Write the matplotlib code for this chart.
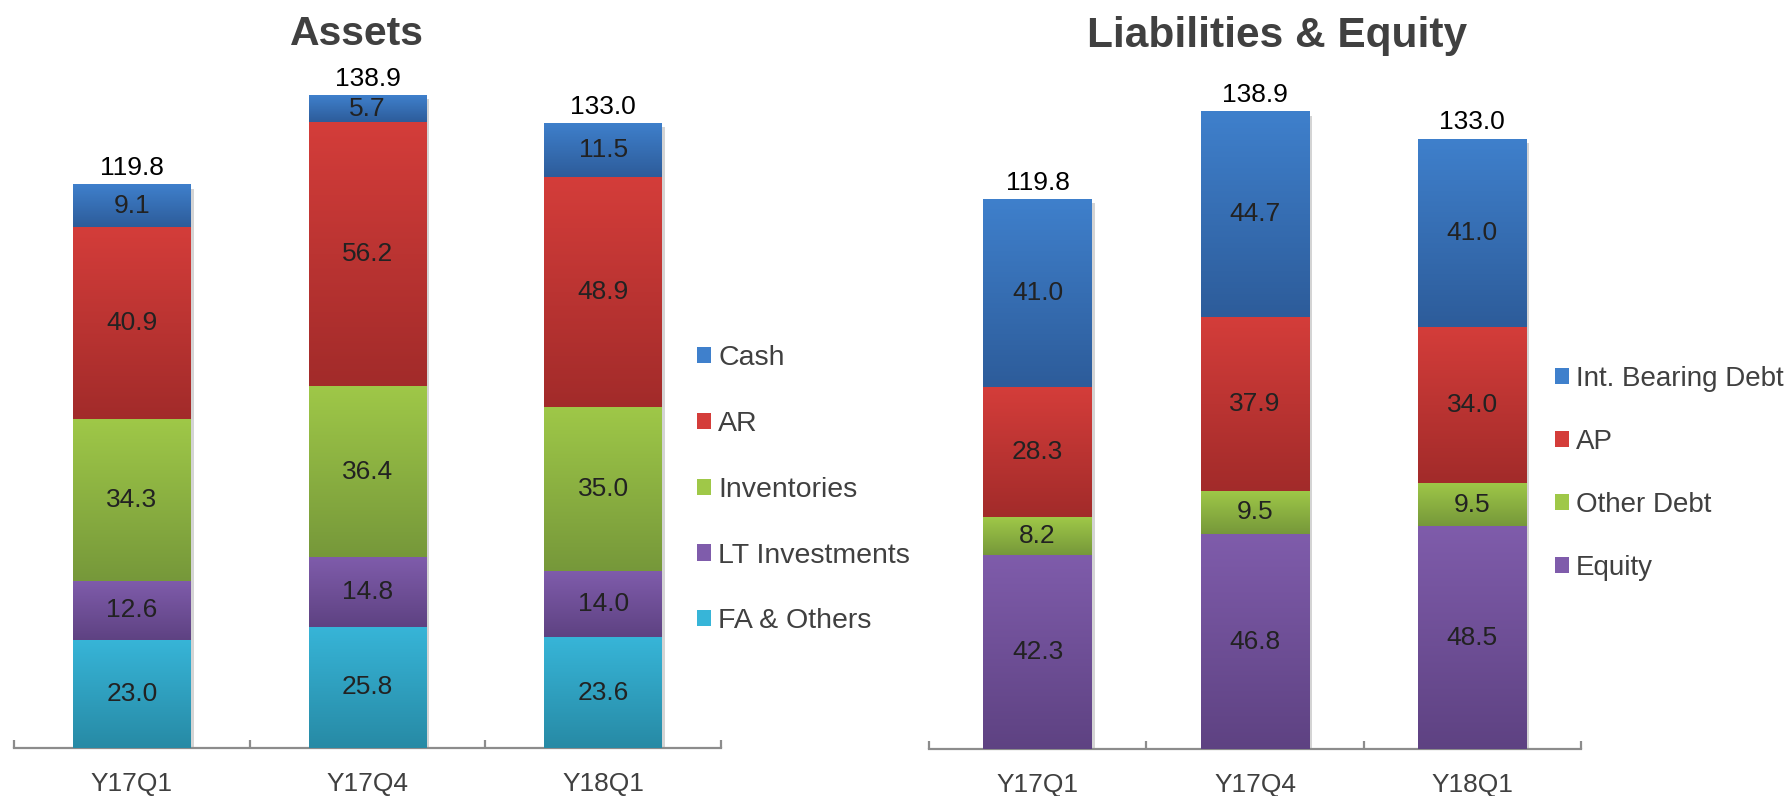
import matplotlib
matplotlib.use('Agg')
import matplotlib.pyplot as plt
import numpy as np
from matplotlib import patheffects as pe
from matplotlib.colors import LinearSegmentedColormap
from matplotlib.patches import Patch

plt.rcParams['font.family'] = ['Liberation Sans', 'DejaVu Sans']

# ---------------- data ----------------
quarters = ['Y17Q1', 'Y17Q4', 'Y18Q1']

# Assets (bottom -> top)
fa_others = [23.0, 25.8, 23.6]
lt_invest = [12.6, 14.8, 14.0]
inventories = [34.3, 36.4, 35.0]
ar = [40.9, 56.2, 48.9]
cash = [9.1, 5.7, 11.5]
assets_total = [119.8, 138.9, 133.0]

# Liabilities & Equity (bottom -> top)
equity = [42.3, 46.8, 48.5]
other_debt = [8.2, 9.5, 9.5]
ap = [28.3, 37.9, 34.0]
int_bearing_debt = [41.0, 44.7, 41.0]
le_total = [119.8, 138.9, 133.0]

# ---------------- styles ----------------
BLUE = ('#3f80cc', '#2d5c9a')
RED = ('#d43d3a', '#a22b2a')
GREEN = ('#9fc848', '#76983a')
PURPLE = ('#7f5cab', '#5e4282')
CYAN = ('#37b5d8', '#278aa5')

AXIS_COL = '#8c8c8c'
TXT_COL = '#404040'
SEG_TXT = '#222222'

W, H, DPI = 1789, 796, 100
fig = plt.figure(figsize=(W / DPI, H / DPI), dpi=DPI)


def px_axes(x0, x1, y_base, px_per_unit, ymax=150):
    """axes from pixel geometry (y measured from top)."""
    left = x0 / W
    width = (x1 - x0) / W
    bottom = (H - y_base) / H
    height = ymax * px_per_unit / H
    ax = fig.add_axes([left, bottom, width, height])
    ax.set_xlim(-0.5, 2.5)
    ax.set_ylim(0, ymax)
    return ax


def grad_fill(ax, bars, colors):
    top, bot = colors
    cmap = LinearSegmentedColormap.from_list('g', [bot, top])
    grad = np.linspace(0, 1, 256).reshape(-1, 1)
    for p in bars:
        x0, y0 = p.get_x(), p.get_y()
        w, h = p.get_width(), p.get_height()
        im = ax.imshow(grad, extent=[x0, x0 + w, y0, y0 + h], origin='lower',
                       cmap=cmap, aspect='auto', zorder=3, interpolation='bilinear')
        im.set_clip_path(p)


def stacked(ax, series, colors, totals):
    x = np.arange(len(quarters))
    bottom = np.zeros(len(quarters))
    conts = []
    for vals, col in zip(series, colors):
        b = ax.bar(x, vals, width=0.5, bottom=bottom, color=col[0], zorder=2,
                   linewidth=0)
        for p in b:
            p.set_path_effects([pe.SimplePatchShadow(offset=(2, -3), shadow_rgbFace='#555555', alpha=0.25),
                                pe.Normal()])
        grad_fill(ax, b, col)
        ax.bar_label(b, labels=[f'{v:.1f}' for v in vals], label_type='center',
                     fontsize=19, color=SEG_TXT, zorder=6)
        conts.append(b)
        bottom = bottom + np.array(vals)
    ax.bar_label(conts[-1], labels=[f'{t:.1f}' for t in totals], padding=3,
                 fontsize=19, color='black', zorder=6)
    ax.set_xlim(-0.5, 2.5)
    ax.set_ylim(0, 150)

    for s in ['left', 'top', 'right']:
        ax.spines[s].set_visible(False)
    ax.spines['bottom'].set_color(AXIS_COL)
    ax.spines['bottom'].set_linewidth(1.6)
    ax.set_yticks([])
    ax.set_xticks(x)
    ax.set_xticklabels(quarters, fontsize=19, color=TXT_COL)
    ax.tick_params(axis='x', which='major', length=0, pad=17)
    ax.set_xticks([-0.5, 0.5, 1.5, 2.5], minor=True)
    ax.tick_params(axis='x', which='minor', direction='in', length=6,
                   width=1.6, color=AXIS_COL)
    ax.patch.set_alpha(0)


# ---------------- Assets ----------------
ax1 = px_axes(14, 721, 748, 4.70)
stacked(ax1, [fa_others, lt_invest, inventories, ar, cash],
        [CYAN, PURPLE, GREEN, RED, BLUE], assets_total)
fig.text(357 / W, 1 - 45 / H, 'Assets', ha='center', va='baseline',
         fontsize=29.5, fontweight='bold', color=TXT_COL)

h1 = [Patch(facecolor=c[0], edgecolor='none') for c in [BLUE, RED, GREEN, PURPLE, CYAN]]
fig.legend(h1, ['Cash', 'AR', 'Inventories', 'LT Investments', 'FA & Others'],
           loc='upper left', bbox_to_anchor=(697 / W, 1 - 345 / H),
           bbox_transform=fig.transFigure, frameon=False, borderpad=0,
           borderaxespad=0, labelspacing=1.4, handletextpad=0.25,
           handlelength=0.5, handleheight=0.5,
           prop={'size': 20.5}, labelcolor=TXT_COL)

# ---------------- Liabilities & Equity ----------------
ax2 = px_axes(929, 1581, 749, 4.59)
stacked(ax2, [equity, other_debt, ap, int_bearing_debt],
        [PURPLE, GREEN, RED, BLUE], le_total)
fig.text(1277 / W, 1 - 47 / H, 'Liabilities & Equity', ha='center', va='baseline',
         fontsize=30.5, fontweight='bold', color=TXT_COL)

h2 = [Patch(facecolor=c[0], edgecolor='none') for c in [BLUE, RED, GREEN, PURPLE]]
fig.legend(h2, ['Int. Bearing Debt', 'AP', 'Other Debt', 'Equity'],
           loc='upper left', bbox_to_anchor=(1555 / W, 1 - 366 / H),
           bbox_transform=fig.transFigure, frameon=False, borderpad=0,
           borderaxespad=0, labelspacing=1.33, handletextpad=0.25,
           handlelength=0.5, handleheight=0.5,
           prop={'size': 20}, labelcolor=TXT_COL)

fig.savefig('out.png', dpi=DPI, facecolor='white')
